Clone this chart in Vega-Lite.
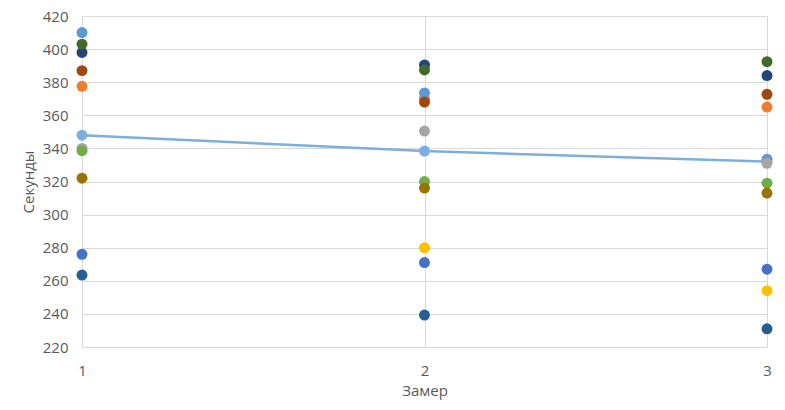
{
  "$schema": "https://vega.github.io/schema/vega-lite/v6.json",
  "width": 685,
  "height": 331,
  "autosize": "none",
  "padding": {"left": 82, "top": 16, "right": 18, "bottom": 63},
  "background": "white",
  "config": {
    "view": {"stroke": null},
    "font": "Open Sans",
    "axis": {
      "labelFont": "Open Sans",
      "titleFont": "Open Sans",
      "labelColor": "#595959",
      "titleColor": "#595959",
      "labelFontSize": 15,
      "titleFontSize": 15,
      "titleFontWeight": "normal",
      "gridColor": "#D9D9D9",
      "gridWidth": 1,
      "ticks": false
    }
  },
  "datasets": {
    "pts": [
      {"zamer": 1, "series": "s1", "value": 276},
      {"zamer": 2, "series": "s1", "value": 271},
      {"zamer": 3, "series": "s1", "value": 267},
      {"zamer": 1, "series": "s2", "value": 377.5},
      {"zamer": 2, "series": "s2", "value": 370},
      {"zamer": 3, "series": "s2", "value": 365},
      {"zamer": 1, "series": "s3", "value": 340},
      {"zamer": 2, "series": "s3", "value": 350.5},
      {"zamer": 2, "series": "s4", "value": 280},
      {"zamer": 3, "series": "s4", "value": 254},
      {"zamer": 1, "series": "s5", "value": 410},
      {"zamer": 2, "series": "s5", "value": 373.5},
      {"zamer": 3, "series": "s5", "value": 333.5},
      {"zamer": 3, "series": "s3", "value": 331},
      {"zamer": 1, "series": "s6", "value": 338.6},
      {"zamer": 2, "series": "s6", "value": 320},
      {"zamer": 3, "series": "s6", "value": 319},
      {"zamer": 1, "series": "s7", "value": 398},
      {"zamer": 2, "series": "s7", "value": 390.4},
      {"zamer": 3, "series": "s7", "value": 384},
      {"zamer": 1, "series": "s8", "value": 387},
      {"zamer": 2, "series": "s8", "value": 368},
      {"zamer": 3, "series": "s8", "value": 372.7},
      {"zamer": 1, "series": "s10", "value": 322},
      {"zamer": 2, "series": "s10", "value": 316},
      {"zamer": 3, "series": "s10", "value": 313},
      {"zamer": 1, "series": "s11", "value": 263.5},
      {"zamer": 2, "series": "s11", "value": 239.3},
      {"zamer": 3, "series": "s11", "value": 231},
      {"zamer": 1, "series": "s12", "value": 403},
      {"zamer": 2, "series": "s12", "value": 387.4},
      {"zamer": 3, "series": "s12", "value": 392.4}
    ],
    "avg": [
      {"zamer": 1, "value": 348},
      {"zamer": 2, "value": 338.4},
      {"zamer": 3, "value": 332}
    ]
  },
  "encoding": {
    "x": {"field": "zamer", "type": "ordinal", "scale": {"type": "point", "padding": 0, "domain": [1, 2, 3]},
      "axis": {"title": "Замер", "labelAngle": 0, "labelPadding": 16, "titlePadding": 5, "domainColor": "#D9D9D9", "grid": true, "labelOverlap": false}},
    "y": {"field": "value", "type": "quantitative", "scale": {"domain": [220, 420], "nice": false},
      "axis": {"values": [220, 240, 260, 280, 300, 320, 340, 360, 380, 400, 420], "title": "Секунды", "labelPadding": 14, "titlePadding": 6, "domain": false, "grid": true, "labelOverlap": false}}
  },
  "layer": [
    {
      "data": {"name": "avg"},
      "mark": {"type": "line", "color": "#7CAFDD", "strokeWidth": 2.5, "point": {"filled": true, "size": 120, "color": "#7CAFDD", "opacity": 1}}
    },
    {
      "data": {"name": "pts"},
      "mark": {"type": "point", "filled": true, "size": 120, "opacity": 1},
      "encoding": {
        "color": {"field": "series", "type": "nominal", "legend": null,
          "scale": {"domain": ["s1", "s2", "s3", "s4", "s5", "s6", "s7", "s8", "s10", "s11", "s12"],
            "range": ["#4472C4", "#ED7D31", "#A5A5A5", "#FFC000", "#5B9BD5", "#70AD47", "#264478", "#9E480E", "#997300", "#255E91", "#43682B"]}}
      }
    }
  ]
}
